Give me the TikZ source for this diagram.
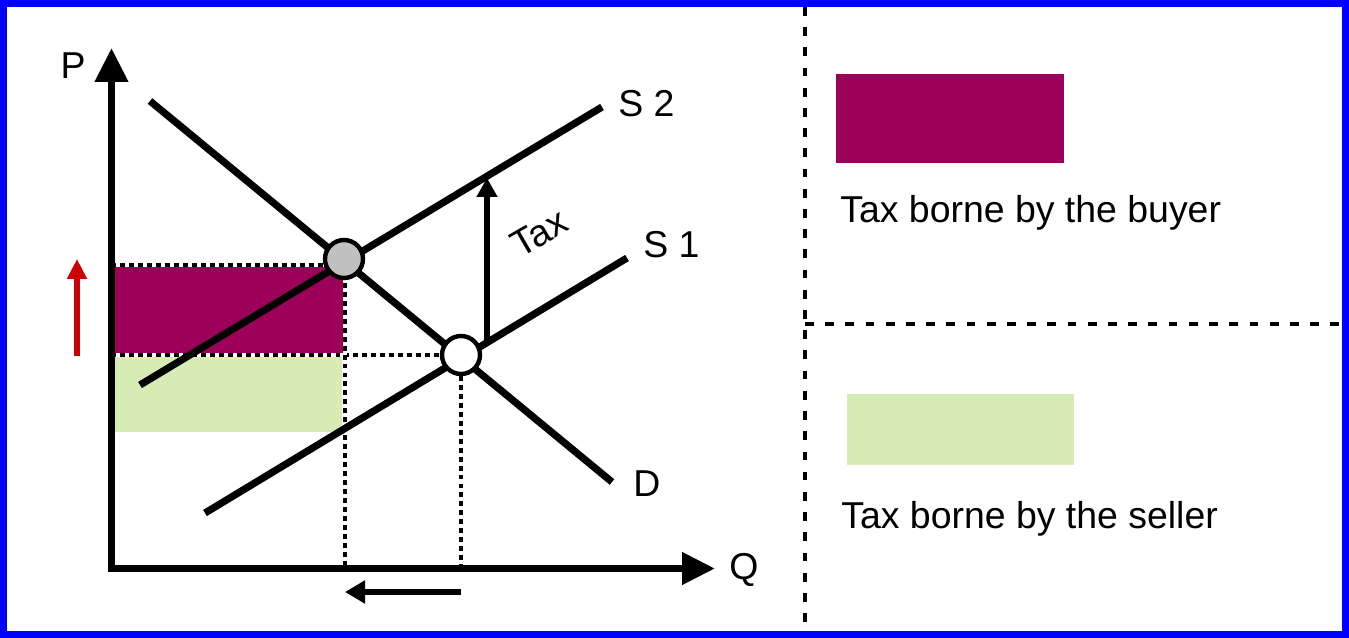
\documentclass[tikz,border=0pt]{standalone}
\usepackage{fontspec}
\setmainfont{Liberation Sans}
\usetikzlibrary{arrows.meta}
\definecolor{buyer}{HTML}{9C0058}
\definecolor{seller}{HTML}{D7ECB5}
\definecolor{frame}{HTML}{0000FF}
\definecolor{rise}{HTML}{CC0000}
\definecolor{eqgray}{HTML}{C0C0C0}
\begin{document}
\begin{tikzpicture}[
    x=0.02cm, y=-0.02cm,
    font=\fontsize{21.3}{25}\selectfont,
    axis/.style={line width=4.2pt, line join=miter, {Triangle[length=0.68cm, width=0.64cm]}-{Triangle[length=0.66cm, width=0.62cm]}},
    curve/.style={line width=4.1pt},
    guide/.style={line width=2.7pt, dash pattern=on 2.8pt off 2.3pt, preaction={draw=white, solid, line width=2.7pt}},
    arrow/.style={line width=3pt, -{Triangle[length=0.4cm, width=0.4cm]}},
    eq/.style={circle, draw, line width=2.5pt, minimum size=0.76cm, inner sep=0pt},
    panel/.style={line width=1.9pt, dash pattern=on 5pt off 6.5pt},
    label/.style={inner sep=0pt}
]
    \useasboundingbox (0,0) rectangle (1349,638);
    \draw[frame, line width=4pt] (3.5,3.5) rectangle (1345.5,634.5);

    % shaded areas
    \fill[buyer] (111.5,265) rectangle (345,355);
    \fill[seller] (111.5,357) rectangle (342,432);

    % guide lines
    \coordinate (p2) at (111.5,265);
    \coordinate (p1) at (111.5,355);
    \coordinate (q2) at (345,568.5);
    \coordinate (q1) at (461,568.5);
    \draw[guide] (p2) -- (330,265);
    \draw[guide] (p1) -- (442,355);
    \draw[guide] (345,265) -- (q2);
    \draw[guide] (461,376) -- (q1);

    % curves
    \coordinate (d1) at (150,101);
    \coordinate (d2) at (612,482);
    \coordinate (s2a) at (140,385);
    \coordinate (s2b) at (602,107);
    \coordinate (s1a) at (205,513);
    \coordinate (s1b) at (627,258);
    \draw[curve] (d1) -- (d2);
    \draw[curve] (s2a) -- (s2b);
    \draw[curve] (s1a) -- (s1b);

    % axes
    \coordinate (ytop) at (111.5,48);
    \coordinate (xend) at (715,568.5);
    \draw[axis] (ytop) |- (xend);
    \node[label] (p) at (73,66) {P};
    \node[label] (q) at (744,570) {Q};

    % equilibria
    \node[eq, fill=eqgray] (e2) at (344,259) {};
    \node[eq, fill=white] (e1) at (461,355) {};

    % tax wedge
    \coordinate (tbase) at (487,342);
    \coordinate (ttop) at (487,178);
    \draw[arrow, -{Triangle[length=0.38cm, width=0.4cm]}] (tbase) -- (ttop);
    \node[label, rotate=30] (tax) at (539,233) {Tax};

    \node[label, anchor=west] (s2) at (618,104) {S 2};
    \node[label, anchor=west] (s1) at (643,245) {S 1};
    \node[label] (d) at (647,484) {D};

    % price and quantity changes
    \coordinate (r1) at (77,356);
    \coordinate (r2) at (77,259);
    \draw[arrow, rise, -{Triangle[length=0.4cm, width=0.38cm]}] (r1) -- (r2);
    \coordinate (m1) at (461,592);
    \coordinate (m2) at (345,592);
    \draw[arrow, -{Triangle[length=0.4cm, width=0.44cm]}] (m1) -- (m2);

    % legend
    \coordinate (vtop) at (805,7);
    \coordinate (vbot) at (805,632);
    \coordinate (hleft) at (805,324);
    \coordinate (hright) at (1340,324);
    \draw[panel] (vtop) -- (vbot);
    \draw[panel] (hleft) -- (hright);
    \fill[buyer] (836,74) rectangle (1064,163);
    \fill[seller] (847,394) rectangle (1074,465);
    \node[label, anchor=base west] (buyertxt) at (840,223) {Tax borne by the buyer};
    \node[label, anchor=base west] (sellertxt) at (841,528) {Tax borne by the seller};
\end{tikzpicture}
\end{document}
